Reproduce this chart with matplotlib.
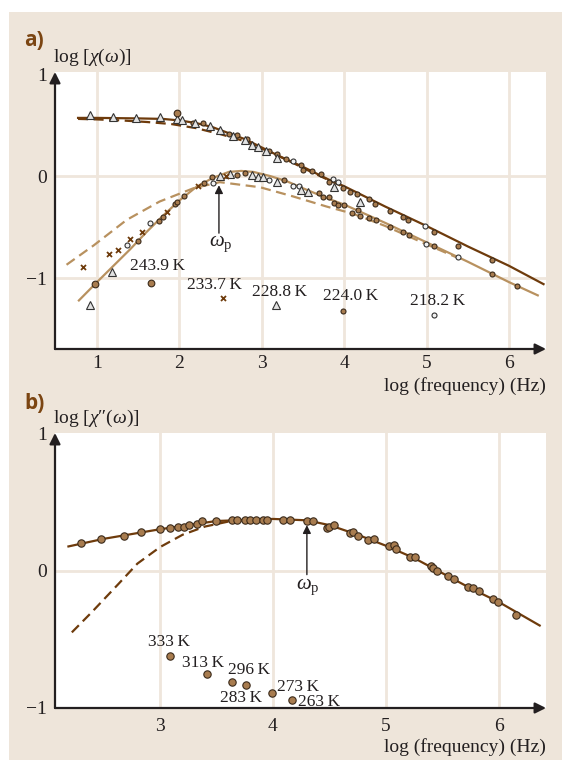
import matplotlib
matplotlib.use("Agg")
import matplotlib.pyplot as plt
from matplotlib.patches import Rectangle

plt.rcParams['font.family'] = ['Liberation Serif', 'DejaVu Serif']
plt.rcParams['mathtext.fontset'] = 'custom'
plt.rcParams['mathtext.rm'] = 'Liberation Serif'
plt.rcParams['mathtext.it'] = 'Liberation Serif:italic'

W, H = 562, 760
BEIGE = '#EEE5DA'
GRID = '#EFE6DC'
INK = '#231F20'
DARK = '#6E3B0C'
TAN = '#B8915F'
FILL = '#A87C4F'

# ---------- panel a data: log chi' vs log f ----------
# 243.9 K (large filled circles)
a243_x = [0.98, 1.97]
a243_y = [-1.06, 0.62]
# 233.7 K (crosses)
a233_x = [0.83, 1.15, 1.26, 1.40, 1.55, 1.85, 2.23, 2.57]
a233_y = [-0.89, -0.76, -0.73, -0.62, -0.55, -0.35, -0.10, 0.0]
# 228.8 K (triangles)
a228_x = [0.92, 1.18, 2.49, 2.61, 2.88, 2.95, 3.02, 3.18, 3.48, 3.56,
          0.91, 1.19, 1.47, 1.77, 1.97, 2.03, 2.19, 2.37, 2.49, 2.65,
          2.80, 2.88, 2.96, 3.05, 3.19, 3.88, 4.19]
a228_y = [-1.26, -0.94, 0.0, 0.02, 0.01, -0.01, -0.01, -0.06, -0.14, -0.16,
          0.60, 0.58, 0.57, 0.58, 0.56, 0.55, 0.52, 0.49, 0.45, 0.39,
          0.35, 0.30, 0.28, 0.25, 0.18, -0.11, -0.25]
# 224.0 K (small filled circles)
a224_x = [1.50, 1.75, 1.80, 1.95, 1.97, 2.05, 2.30, 2.40, 2.70, 2.80,
          3.27, 3.69, 3.74, 3.81, 3.88, 3.93, 4.00, 4.09, 4.17, 4.19,
          4.30, 4.39, 4.56, 4.71, 4.79, 5.09, 5.80, 6.10,
          2.17, 2.29, 2.60, 2.70, 2.82, 3.09, 3.19, 3.29, 3.48, 3.50,
          3.61, 3.72, 3.81, 3.98, 4.07, 4.16, 4.30, 4.38, 4.56, 4.71,
          4.78, 5.09, 5.38, 5.80]
a224_y = [-0.64, -0.44, -0.40, -0.27, -0.25, -0.20, -0.07, -0.01, 0.01, 0.03,
          -0.04, -0.17, -0.21, -0.21, -0.26, -0.28, -0.28, -0.36, -0.33, -0.39,
          -0.41, -0.43, -0.50, -0.55, -0.58, -0.69, -0.96, -1.08,
          0.52, 0.52, 0.41, 0.40, 0.36, 0.25, 0.22, 0.17, 0.11, 0.06,
          0.05, 0.02, -0.06, -0.12, -0.16, -0.18, -0.23, -0.27, -0.34, -0.40,
          -0.43, -0.55, -0.69, -0.82]
# 218.2 K (open circles)
a218_x = [1.36, 1.64, 2.41, 3.09, 3.38, 3.45, 4.99, 5.38, 3.38, 3.86, 3.93, 4.98]
a218_y = [-0.68, -0.46, -0.07, -0.04, -0.10, -0.10, -0.67, -0.79, 0.15, -0.03, -0.06, -0.49]

# fitted curves
up_fit_x = [0.77, 1.0, 1.5, 1.8, 2.0, 2.2, 2.4, 2.6, 2.8, 3.0, 3.2, 3.5, 3.8,
            4.0, 4.5, 5.0, 5.5, 6.0, 6.42]
up_fit_y = [0.57, 0.57, 0.565, 0.56, 0.545, 0.52, 0.48, 0.42, 0.36, 0.28, 0.20,
            0.09, -0.03, -0.10, -0.30, -0.49, -0.69, -0.88, -1.06]
up_dash_x = [0.77, 1.0, 1.3, 1.6, 1.9, 2.2, 2.5, 2.8, 3.0, 3.3, 3.6, 4.0]
up_dash_y = [0.56, 0.555, 0.545, 0.53, 0.51, 0.47, 0.41, 0.34, 0.27, 0.16, 0.04, -0.11]
lo_fit_x = [0.78, 1.0, 1.2, 1.4, 1.6, 1.8, 2.0, 2.2, 2.4, 2.6, 2.75, 2.9, 3.1,
            3.3, 3.5, 3.8, 4.0, 4.5, 5.0, 5.5, 6.0, 6.35]
lo_fit_y = [-1.22, -1.04, -0.88, -0.72, -0.55, -0.39, -0.24, -0.11, -0.02, 0.04,
            0.05, 0.04, 0.0, -0.05, -0.12, -0.22, -0.28, -0.46, -0.65, -0.84,
            -1.04, -1.17]
lo_dash_x = [0.63, 0.96, 1.36, 1.76, 2.17, 2.49, 2.98, 3.38, 3.79, 4.11, 4.5, 5.0, 5.4]
lo_dash_y = [-0.87, -0.68, -0.43, -0.25, -0.12, -0.06, -0.11, -0.20, -0.30, -0.37,
             -0.49, -0.67, -0.81]

# key markers and labels
a_keys = ['243.9\u2009K', '233.7\u2009K', '228.8\u2009K', '224.0\u2009K', '218.2\u2009K']
a_key_mx = [1.66, 2.53, 3.17, 3.99, 5.09]
a_key_my = [-1.05, -1.20, -1.26, -1.32, -1.36]
a_key_tx = [1.74, 2.43, 3.22, 4.08, 5.14]
a_key_ty = [-0.88, -1.07, -1.14, -1.18, -1.23]

# ---------- panel b data: log chi'' vs log f ----------
b_x = [2.30, 2.48, 2.68, 2.83, 3.00, 3.09, 3.16, 3.21, 3.26, 3.33, 3.37, 3.50,
       3.64, 3.68, 3.75, 3.80, 3.85, 3.91, 3.95, 4.09, 4.15, 4.30, 4.35, 4.48,
       4.50, 4.54, 4.68, 4.71, 4.75, 4.84, 4.89, 5.03, 5.07, 5.09, 5.21, 5.26,
       5.40, 5.42, 5.45, 5.55, 5.60, 5.73, 5.77, 5.82, 5.95, 5.99, 6.15]
b_y = [0.20, 0.23, 0.25, 0.28, 0.30, 0.31, 0.32, 0.32, 0.33, 0.34, 0.36, 0.36,
       0.37, 0.37, 0.37, 0.37, 0.37, 0.37, 0.37, 0.37, 0.37, 0.36, 0.36, 0.31,
       0.32, 0.33, 0.27, 0.28, 0.25, 0.22, 0.23, 0.175, 0.185, 0.155, 0.10, 0.095,
       0.03, 0.017, 0.0, -0.04, -0.06, -0.12, -0.13, -0.15, -0.21, -0.23, -0.32]
b_fit_x = [2.19, 2.5, 3.0, 3.5, 4.0, 4.3, 4.5, 4.75, 5.0, 5.25, 5.5, 5.75, 6.0, 6.36]
b_fit_y = [0.175, 0.23, 0.30, 0.36, 0.375, 0.365, 0.33, 0.26, 0.18, 0.09, -0.02,
           -0.13, -0.23, -0.40]
b_dash_x = [2.22, 2.4, 2.63, 2.8, 3.0, 3.2, 3.4, 3.6, 3.8]
b_dash_y = [-0.45, -0.30, -0.10, 0.05, 0.17, 0.26, 0.32, 0.355, 0.37]

b_keys = ['333\u2009K', '313\u2009K', '296\u2009K', '283\u2009K', '273\u2009K', '263\u2009K']
b_key_mx = [3.09, 3.42, 3.64, 3.76, 3.99, 4.17]
b_key_my = [-0.62, -0.75, -0.81, -0.83, -0.89, -0.94]
b_key_tx = [3.08, 3.38, 3.79, 3.72, 4.22, 4.41]
b_key_ty = [-0.52, -0.67, -0.72, -0.93, -0.85, -0.96]


def fx(px):
    return px / W


def fy(py):
    return 1 - py / H


fig = plt.figure(figsize=(W / 100, H / 100), dpi=100)
fig.patch.set_facecolor('white')
fig.patches.append(Rectangle((fx(9), 0), 1, fy(12), transform=fig.transFigure,
                             facecolor=BEIGE, edgecolor='none', zorder=-10))


def setup_axes(ax, xlim, ylim, xgrid, ygrid, xticks, yticks, xpad):
    ax.set_facecolor('white')
    ax.set_xlim(xlim)
    ax.set_ylim(ylim)
    for s in ax.spines.values():
        s.set_visible(False)
    for g in xgrid:
        ax.axvline(g, color=GRID, lw=2, zorder=0)
    for g in ygrid:
        ax.axhline(g, color=GRID, lw=2, zorder=0)
    ax.set_xticks(xticks)
    ax.set_xticklabels([str(t) for t in xticks])
    ax.set_yticks(yticks)
    ax.set_yticklabels([str(t).replace('-', '\u2212') for t in yticks])
    ax.tick_params(axis='both', length=0, labelsize=14, colors=INK)
    ax.tick_params(axis='x', pad=xpad)
    ax.tick_params(axis='y', pad=6)
    arrow = dict(arrowstyle='-|>', color=INK, lw=1.6, mutation_scale=16,
                 shrinkA=0, shrinkB=0)
    ax.annotate('', xy=(0, 1), xytext=(0, 0), xycoords='axes fraction',
                arrowprops=arrow, annotation_clip=False)
    ax.annotate('', xy=(1, 0), xytext=(0, 0), xycoords='axes fraction',
                arrowprops=arrow, annotation_clip=False)


# panel a
ax1 = fig.add_axes([fx(55), fy(349), fx(546) - fx(55), fy(72) - fy(349)])
setup_axes(ax1, (0.49, 6.45), (-1.696, 1.02), [1, 2, 3, 4, 5, 6], [-1, 0],
           [1, 2, 3, 4, 5, 6], [-1, 0, 1], 4)

ax1.plot(lo_dash_x, lo_dash_y, color=TAN, lw=1.6, ls=(0, (4.5, 2.5)), zorder=2)
ax1.plot(lo_fit_x, lo_fit_y, color=TAN, lw=1.6, zorder=2)
ax1.plot(up_dash_x, up_dash_y, color=DARK, lw=1.6, ls=(0, (4.5, 2.5)), zorder=2)
ax1.plot(up_fit_x, up_fit_y, color=DARK, lw=1.6, zorder=2)

ax1.plot(a218_x, a218_y, 'o', ms=3.6, mfc='#F2F2F2', mec='#333333', mew=0.8, zorder=3)
ax1.plot(a224_x, a224_y, 'o', ms=3.6, mfc=FILL, mec='#3A2A1A', mew=0.8, zorder=3)
ax1.plot(a228_x, a228_y, '^', ms=5.2, mfc='#E2E2E2', mec='#333333', mew=0.8, zorder=3)
ax1.plot(a233_x, a233_y, 'x', ms=3.6, mec=DARK, mew=1.3, zorder=3)
ax1.plot(a243_x, a243_y, 'o', ms=4.8, mfc=FILL, mec='#3A2A1A', mew=0.8, zorder=3)

key_styles = [
    dict(marker='o', ms=4.8, mfc=FILL, mec='#3A2A1A', mew=0.8),
    dict(marker='x', ms=3.6, mec=DARK, mew=1.3),
    dict(marker='^', ms=5.2, mfc='#E2E2E2', mec='#333333', mew=0.8),
    dict(marker='o', ms=3.6, mfc=FILL, mec='#3A2A1A', mew=0.8),
    dict(marker='o', ms=3.6, mfc='#F2F2F2', mec='#333333', mew=0.8),
]
for lab, mx, my, tx, ty, st in zip(a_keys, a_key_mx, a_key_my, a_key_tx, a_key_ty, key_styles):
    ax1.plot([mx], [my], ls='none', zorder=3, **st)
    ax1.text(tx, ty, lab, ha='center', va='center', fontsize=12.5, color=INK)

ax1.annotate('', xy=(2.48, -0.09), xytext=(2.48, -0.56),
             arrowprops=dict(arrowstyle='-|>', color=INK, lw=1.0, mutation_scale=12,
                             shrinkA=0, shrinkB=0))
ax1.text(2.50, -0.66, r'$\omega_{\mathrm{p}}$', ha='center', va='center',
         fontsize=15, color=INK)

# panel b
ax2 = fig.add_axes([fx(55), fy(708), fx(546) - fx(55), fy(433) - fy(708)])
setup_axes(ax2, (2.071, 6.416), (-1.0, 1.0), [3, 4, 5, 6], [0],
           [3, 4, 5, 6], [-1, 0, 1], 7)

ax2.plot(b_dash_x, b_dash_y, color=DARK, lw=1.6, ls=(0, (4.5, 2.5)), zorder=2)
ax2.plot(b_fit_x, b_fit_y, color=DARK, lw=1.6, zorder=2)
ax2.plot(b_x, b_y, 'o', ms=5.3, mfc=FILL, mec='#3A2A1A', mew=0.8, zorder=3)
ax2.plot(b_key_mx, b_key_my, 'o', ms=5.3, mfc=FILL, mec='#3A2A1A', mew=0.8,
         ls='none', zorder=3)
for lab, tx, ty in zip(b_keys, b_key_tx, b_key_ty):
    ax2.text(tx, ty, lab, ha='center', va='center', fontsize=12.5, color=INK)

ax2.annotate('', xy=(4.30, 0.33), xytext=(4.30, -0.03),
             arrowprops=dict(arrowstyle='-|>', color=INK, lw=1.0, mutation_scale=12,
                             shrinkA=0, shrinkB=0))
ax2.text(4.31, -0.12, r'$\omega_{\mathrm{p}}$', ha='center', va='center',
         fontsize=15, color=INK)

# titles and axis labels
lab_font = dict(family=['Open Sans', 'DejaVu Sans'], weight='bold', fontsize=15,
                color='#7B4512')
fig.text(fx(24), fy(41), 'a)', ha='left', va='center', **lab_font)
fig.text(fx(24), fy(403), 'b)', ha='left', va='center', **lab_font)
fig.text(fx(53), fy(62), r'log [$\chi(\omega)$]', ha='left', va='baseline',
         fontsize=14, color=INK)
fig.text(fx(53), fy(423), 'log [$\\chi$\u2033($\\omega$)]', ha='left', va='baseline',
         fontsize=14, color=INK)
fig.text(fx(546), fy(391), 'log (frequency) (Hz)', ha='right', va='baseline',
         fontsize=14, color=INK)
fig.text(fx(546), fy(752), 'log (frequency) (Hz)', ha='right', va='baseline',
         fontsize=14, color=INK)

fig.savefig('out.png', dpi=100, facecolor=fig.get_facecolor())
